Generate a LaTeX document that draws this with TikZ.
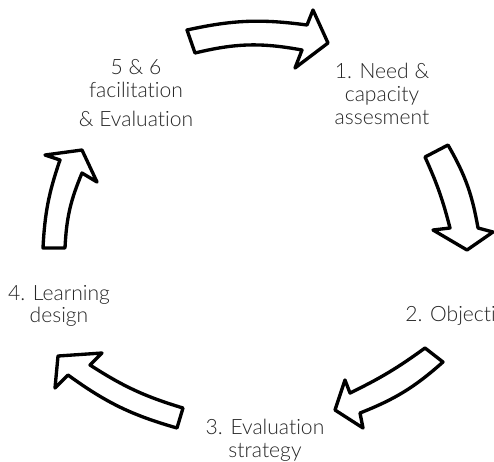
\documentclass[tikz,border=0pt]{standalone}
\usepackage{fontspec}
\setmainfont{Lato}[UprightFont=* Light, Ligatures=NoCommon]
\usepackage{tikz}
\usetikzlibrary{arrows,positioning,calc}

\begin{document}
\begin{tikzpicture}[x=0.02cm, y=-0.02cm, line join=round, font=\fontsize{12}{13}\selectfont]
\tikzstyle{every node}=[text=black!85, align=center, inner sep=0pt]
\tikzstyle{block}=[draw=black, fill=white, line width=1.9pt]
\useasboundingbox (0,0) rectangle (494,461);
\clip (0,0) rectangle (494,461);

\node (s56) at (136,93)   {5 \& 6\\facilitation\\[3.5pt]\& Evaluation};
\node (s1)  at (382,94)   {1. Need \&\\capacity\\assesment};
\node (s2)  [anchor=west] at (405,316) {2. Objectives};
\node (s3)  at (265,440)  {3. Evaluation\\strategy};
\node (s4)  at (59,306)   {4. Learning\\design};

\draw[block] (187,30) to[bend left=10] (307,25) -- (313,10) -- (328,43) -- (295,68) -- (302,50)
    to[bend right=12] (195,53) -- cycle;
\draw[block] (425,157) to[bend left=5] (450,228) -- (433,230) -- (467,250) -- (493,232) -- (478,228)
    to[bend right=10] (448,145) -- cycle;
\draw[block] (425,348) to[bend left=5] (350,393) -- (345,380) -- (335,410) -- (363,428) -- (360,413)
    to[bend right=10] (443,362) -- cycle;
\draw[block] (183,408) to[bend left=8] (90,365) -- (102,353) -- (58,356) -- (55,388) -- (68,375)
    to[bend right=10] (177,428) -- cycle;
\draw[block] (43,248) to[bend left=8] (60,160) -- (45,155) -- (82,150) -- (97,182) -- (82,173)
    to[bend right=10] (65,248) -- cycle;
\end{tikzpicture}
\end{document}
